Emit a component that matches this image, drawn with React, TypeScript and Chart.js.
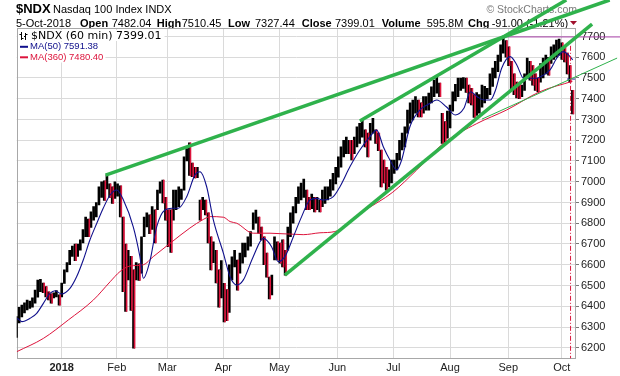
import React, { useEffect, useRef } from "react";
import { Chart, registerables } from "chart.js";

Chart.register(...registerables);

// ---------- data (trading-day index, 0 = 2 Jan 2018) ----------
const FIRST_DAY = -17; // first bar: 6 Dec 2017

const lows = [
  6250, 6320, 6348, 6368, 6382, 6390, 6395, 6415, 6444, 6470, 6465, 6445, 6430, 6415, 6440, 6445, 6405,
  6445, 6510, 6565, 6600, 6640, 6620, 6640, 6670, 6705, 6735,
  6735, 6780, 6815, 6830, 6888, 6925, 6910, 6965, 6925, 6895,
  6920, 6930, 6830, 6470, 6375, 6527, 6380, 6198, 6527, 6525,
  6560, 6735, 6782, 6750, 6770, 6705, 6865, 6945, 6898, 6815,
  6687, 6660, 6815, 6865, 6880, 6915, 6960, 7100, 7030, 7025,
  7018, 7020, 6815, 6865, 6840, 6705, 6575, 6610, 6512, 6396,
  6440, 6325, 6330, 6370, 6527, 6590, 6478, 6560, 6608, 6638,
  6670, 6690, 6770, 6800, 6752, 6720, 6600, 6540, 6435, 6455,
  6623, 6623, 6608, 6590, 6550, 6670, 6735, 6800, 6850, 6895,
  6912, 6925, 6865, 6865, 6870, 6855, 6865, 6855, 6880, 6895,
  6912, 6930, 6960, 6990, 7022, 7070, 7120, 7135, 7135, 7105,
  7135, 7168, 7185, 7215, 7168, 7120, 7200, 7234, 7185, 7150,
  6975, 6994, 6960, 6975, 6994, 7040, 7057, 7105, 7153, 7168,
  7234, 7282, 7298, 7330, 7313, 7313, 7330, 7345, 7345, 7380,
  7410, 7427, 7410, 7185, 7180, 7210, 7260, 7340, 7390, 7410,
  7440, 7450, 7430, 7380, 7370, 7310, 7320, 7330, 7360, 7380,
  7400, 7420, 7460, 7500, 7530, 7580, 7620, 7600, 7560, 7440,
  7420, 7404, 7400, 7410, 7440, 7500, 7490, 7466, 7440, 7433,
  7480, 7500, 7520, 7514, 7570, 7590, 7600, 7610, 7590, 7577,
  7520, 7480, 7327,
];

const highs = [
  6350, 6395, 6406, 6416, 6430, 6425, 6440, 6478, 6526, 6530, 6512, 6495, 6470, 6460, 6465, 6475, 6455,
  6512, 6575, 6610, 6670, 6690, 6700, 6700, 6720, 6770, 6830,
  6820, 6855, 6880, 6900, 6975, 7000, 7005, 7033, 6990, 6975,
  7000, 6990, 6980, 6830, 6700, 6670, 6640, 6575, 6610, 6605,
  6735, 6830, 6850, 6840, 6880, 6865, 6960, 7000, 7008, 6925,
  6865, 6865, 6960, 6960, 6975, 6965, 7120, 7160, 7188, 7090,
  7070, 7070, 6912, 6925, 6912, 6850, 6735, 6710, 6670, 6575,
  6620, 6510, 6480, 6600, 6638, 6670, 6622, 6656, 6705, 6705,
  6735, 6760, 6850, 6864, 6830, 6782, 6735, 6656, 6540, 6550,
  6735, 6710, 6705, 6720, 6670, 6782, 6850, 6880, 6925, 6975,
  6994, 7013, 6960, 6925, 6940, 6925, 6925, 6910, 6960, 6975,
  6975, 7010, 7040, 7070, 7120, 7168, 7200, 7215, 7200, 7200,
  7215, 7265, 7282, 7298, 7250, 7235, 7282, 7306, 7250, 7235,
  7153, 7105, 7070, 7057, 7105, 7105, 7137, 7200, 7234, 7265,
  7345, 7380, 7394, 7410, 7394, 7380, 7410, 7410, 7427, 7457,
  7490, 7506, 7475, 7330, 7290, 7340, 7370, 7433, 7470, 7500,
  7500, 7502, 7500, 7466, 7450, 7420, 7430, 7420, 7466, 7460,
  7450, 7520, 7548, 7580, 7611, 7660, 7694, 7680, 7650, 7580,
  7520, 7480, 7470, 7466, 7520, 7596, 7580, 7560, 7520, 7500,
  7570, 7596, 7611, 7600, 7650, 7660, 7683, 7688, 7670, 7650,
  7620, 7560, 7440,
];

const ma50 = [
  [-16.7, 6342], [-15, 6326], [-11.9, 6342], [-9.4, 6366], [-6.9, 6414], [-4.4, 6462], [-2.5, 6475],
  [0, 6459], [3.1, 6486], [5.6, 6542], [8.1, 6623], [10.6, 6719], [13.2, 6800], [15.6, 6872],
  [18.2, 6936], [20.7, 6960], [23.2, 6912], [26.9, 6783], [29.4, 6639], [30.7, 6535], [33.2, 6620],
  [35.7, 6783], [38.8, 6864], [41.4, 6872], [43.8, 6872], [47.0, 6928], [50.1, 7033], [52.0, 7048],
  [54.5, 6976], [57.0, 6816], [60.8, 6655], [63.3, 6542], [65.8, 6502], [68.3, 6527], [72.0, 6639],
  [75.8, 6727], [78.9, 6687], [81.4, 6615], [83.9, 6639], [87.1, 6735], [90.2, 6832], [93.3, 6912],
  [95.9, 6920], [98.3, 6912], [102.1, 6928], [104.6, 6976], [108.4, 7073], [112.1, 7153], [115.9, 7217],
  [118.4, 7249], [120.9, 7169], [123.4, 7105], [125.9, 7057], [127.8, 7105], [130.9, 7265], [134.7, 7346],
  [138.5, 7378], [141.0, 7394], [144.7, 7360], [147.9, 7322], [151.2, 7354], [153.7, 7434], [156.2, 7410],
  [158.7, 7394], [161.2, 7394], [163.1, 7442], [165.4, 7547], [168.6, 7603], [171.1, 7563], [173.6, 7499],
  [178.6, 7499], [181.1, 7514], [183.6, 7539], [186.1, 7595], [188.6, 7627], [190.5, 7611], [192.1, 7587],
];

const ma360 = [
  [-16.9, 6181], [-6.9, 6245], [2.5, 6334], [11.9, 6430], [18.2, 6518], [21.9, 6567], [25.7, 6594],
  [30.7, 6600], [34.4, 6639], [40.7, 6703], [48.2, 6777], [53.2, 6818], [55.8, 6832], [60.8, 6829],
  [63.3, 6808], [65.8, 6800], [72.0, 6752], [78.3, 6752], [90.8, 6745], [97.1, 6754], [102.7, 6760],
  [109.5, 6816], [113.3, 6855], [124.5, 6950], [133.5, 7057], [143.5, 7185], [156.0, 7280],
  [167.3, 7346], [179.8, 7434], [192, 7484],
];

const trendTop = [[16.5, 7032], [206, 7876]];
const trendMid = [[112.1, 7293], [189.7, 7876]];
const trendLow = [[83.9, 6550], [199.4, 7760]];
const trendThin = [[158, 7302], [208.8, 7596]];
const purpleLevel = [[165.9, 7698], [210.9, 7698]];
const maMarker = [[190, 7495], [193.4, 7495]];
const dayMarker = [[191.3, 7655], [191.3, 6148]];

const monthTicks = [0, 20.7, 39.7, 60.8, 81.8, 103.6, 124.7, 146, 167.9, 188];
const monthLabels = ["2018", "Feb", "Mar", "Apr", "May", "Jun", "Jul", "Aug", "Sep", "Oct"];
const priceTicks = [6200, 6300, 6400, 6500, 6600, 6700, 6800, 6900, 7000, 7100, 7200, 7300, 7400, 7500, 7600, 7700];

const titleSymbol = "$NDX";
const titleName = "Nasdaq 100 Index INDX";
const quoteParts: [string, boolean][] = [
  ["5-Oct-2018", false], ["Open", true], ["7482.04", false], ["High", true], ["7510.45", false],
  ["Low", true], ["7327.44", false], ["Close", true], ["7399.01", false], ["Volume", true],
  ["595.8M", false], ["Chg", true], ["-91.00 (-1.21%)", false],
];
const legendPrice = "$NDX (60 min) 7399.01";
const legendMa50 = "MA(50) 7591.38";
const legendMa360 = "MA(360) 7480.40";
const copyright = "\u00A9 StockCharts.com";

// ---------- styling ----------
const FONT = '"Liberation Sans", Arial, sans-serif';
const GREEN = "#2fb24c";
const RED = "#dc143c";
const BLUE = "#10108c";
const GRID = "#dadada";
const PURPLE = "#a43ca4";
const QUOTE_X = [16, 80, 111.7, 156.7, 181.7, 228, 255, 301.7, 335, 381.7, 426.7, 468, 491.7];

const X_MIN = -16.92;
const X_MAX = 193.35;
const Y_MIN = 6148.2;
const Y_MAX = 7739.5;

const headerPlugin = {
  id: "header",
  beforeDraw(chart: any) {
    const ctx = chart.ctx;
    ctx.save();
    ctx.fillStyle = "#ffffff";
    ctx.fillRect(0, 0, chart.width, chart.height);
    ctx.textBaseline = "alphabetic";
    ctx.textAlign = "left";
    ctx.fillStyle = "#000";
    ctx.font = `bold 13px ${FONT}`;
    ctx.fillText(titleSymbol, 16, 13);
    ctx.font = `11px ${FONT}`;
    ctx.fillText(titleName, 53, 12.5);
    quoteParts.forEach(([t, b], i) => {
      ctx.font = `${b ? "bold " : ""}11px ${FONT}`;
      ctx.fillText(t, QUOTE_X[i], 26.5);
    });
    ctx.fillStyle = "#a0102c";
    ctx.beginPath();
    ctx.moveTo(570, 21);
    ctx.lineTo(577, 21);
    ctx.lineTo(573.5, 25);
    ctx.closePath();
    ctx.fill();
    ctx.fillStyle = "#7a7a7a";
    ctx.font = `10.5px ${FONT}`;
    ctx.textAlign = "right";
    ctx.fillText(copyright, 577, 12.5);
    ctx.restore();
  },
  beforeDatasetsDraw(chart: any) {
    const { ctx, chartArea: a } = chart;
    ctx.save();
    ctx.strokeStyle = "#a8a8a8";
    ctx.lineWidth = 1;
    ctx.strokeRect(Math.round(a.left) + 0.5, Math.round(a.top) + 0.5, Math.round(a.right - a.left) - 1, Math.round(a.bottom - a.top));
    ctx.restore();
  },
  afterDraw(chart: any) {
    const ctx = chart.ctx;
    ctx.save();
    ctx.textBaseline = "middle";
    ctx.textAlign = "left";
    ctx.font = `11px "DejaVu Sans", Verdana, sans-serif`;
    const w = ctx.measureText(legendPrice).width;
    ctx.fillStyle = "#fff";
    ctx.fillRect(18, 30, w + 16, 11);
    ctx.fillStyle = "#000";
    ctx.fillText(legendPrice, 31, 36);
    ctx.strokeStyle = "#000";
    ctx.lineWidth = 1;
    ctx.beginPath();
    ctx.moveTo(21.5, 32); ctx.lineTo(21.5, 40);
    ctx.moveTo(19.5, 34.5); ctx.lineTo(21.5, 34.5);
    ctx.moveTo(21.5, 38.5); ctx.lineTo(23.5, 38.5);
    ctx.moveTo(25.5, 33); ctx.lineTo(25.5, 40);
    ctx.moveTo(24, 36.5); ctx.lineTo(25.5, 36.5);
    ctx.moveTo(25.5, 34.5); ctx.lineTo(27.5, 34.5);
    ctx.stroke();
    ctx.font = `9.5px ${FONT}`;
    const rows: [string, string, number][] = [[legendMa50, BLUE, 46.8], [legendMa360, RED, 57.3]];
    rows.forEach(([t, c, y]) => {
      const tw = ctx.measureText(t).width;
      ctx.fillStyle = "#fff";
      ctx.fillRect(18, y - 5.2, tw + 14, 10.4);
      ctx.fillStyle = c;
      ctx.fillRect(20, y - 1, 8, 2);
      ctx.fillText(t, 30, y);
    });
    ctx.restore();
  },
};

export default function App() {
  const ref = useRef<HTMLCanvasElement>(null);
  useEffect(() => {
    if (!ref.current) return;
    const black = highs.map((h, i) => ({ x: FIRST_DAY + i, y: [lows[i], h] }));
    const red: any[] = [];
    highs.forEach((h, i) => {
      if (i > 0 && lows[i] + h < lows[i - 1] + highs[i - 1]) {
        red.push({ x: FIRST_DAY + i + 0.4, y: [lows[i], h] });
      }
    });
    const line = (pts: number[][], color: string, width: number, order: number, extra: any = {}) => ({
      type: "line",
      data: pts.map(([x, y]) => ({ x, y })),
      borderColor: color,
      borderWidth: width,
      pointRadius: 0,
      fill: false,
      order,
      ...extra,
    });
    const chart = new Chart(ref.current, {
      type: "bar",
      data: {
        datasets: [
          line(trendTop, GREEN, 3.5, 1, { clip: false }),
          line(trendMid, GREEN, 3.5, 1, { clip: false }),
          line(trendLow, GREEN, 3.5, 1, { clip: false }),
          line(trendThin, GREEN, 1, 1, { clip: false }),
          line(purpleLevel, PURPLE, 1, 2, { clip: false }),
          line(maMarker, BLUE, 1, 2, { borderDash: [3, 2] }),
          line(dayMarker, RED, 1, 2, { borderDash: [5, 2, 1, 2] }),
          line(ma50, BLUE, 1.1, 3, { cubicInterpolationMode: "monotone" }),
          line(ma360, RED, 1, 4, { cubicInterpolationMode: "monotone" }),
          { type: "bar", data: red, backgroundColor: RED, barThickness: 1, grouped: false, order: 8 },
          { type: "bar", data: black, backgroundColor: "#000", barThickness: 2, grouped: false, order: 9 },
        ] as any,
      },
      options: {
        responsive: false,
        animation: false,
        events: [],
        layout: { padding: { left: 16.7, top: 28.3, right: 0, bottom: 0 } },
        plugins: { legend: { display: false }, tooltip: { enabled: false } },
        scales: {
          x: {
            type: "linear",
            min: X_MIN,
            max: X_MAX,
            offset: false,
            afterBuildTicks: (s: any) => { s.ticks = monthTicks.map((v) => ({ value: v })); },
            afterFit: (s: any) => { s.height = 17.5; },
            grid: { color: GRID, offset: false, drawTicks: false },
            border: { display: false },
            ticks: {
              autoSkip: false,
              maxRotation: 0,
              padding: 3,
              color: "#222",
              font: (c: any) => ({ family: FONT, size: 11, weight: c.index === 0 ? "bold" : "normal" }),
              callback: (_v: any, i: number) => monthLabels[i],
            },
          },
          y: {
            type: "linear",
            position: "right",
            min: Y_MIN,
            max: Y_MAX,
            afterBuildTicks: (s: any) => { s.ticks = priceTicks.map((v) => ({ value: v })); },
            afterFit: (s: any) => { s.width = 44; },
            grid: { color: GRID, tickLength: 3, tickColor: "#777" },
            border: { display: false },
            ticks: { padding: 2, color: "#222", font: { family: FONT, size: 11 }, callback: (v: any) => String(v) },
          },
        },
      } as any,
      plugins: [headerPlugin],
    });
    return () => chart.destroy();
  }, []);
  return (
    <div style={{ position: "absolute", left: 0, top: 0, width: 620, height: 376, background: "#fff" }}>
      <canvas ref={ref} width={620} height={376} style={{ display: "block" }} />
    </div>
  );
}
